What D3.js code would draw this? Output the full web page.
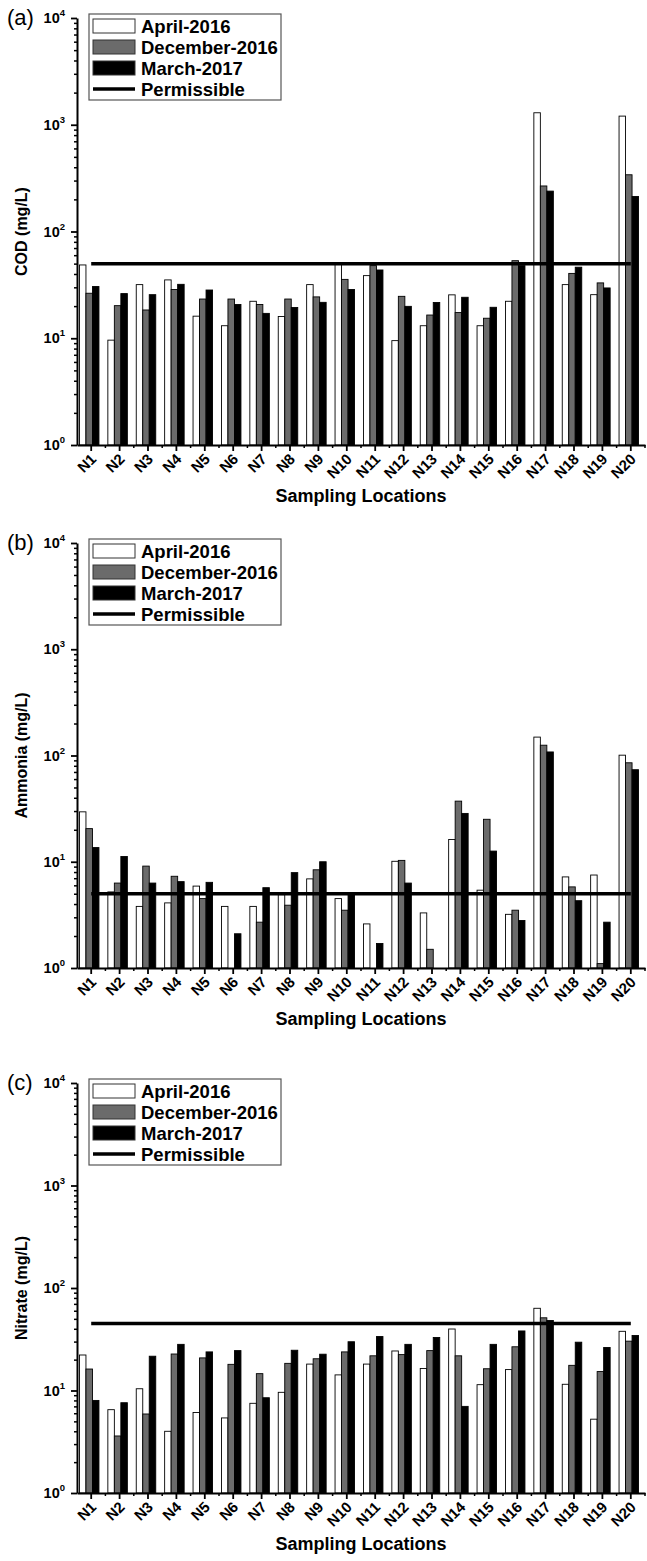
<!DOCTYPE html>
<html>
<head>
<meta charset="utf-8">
<script src="https://cdn.jsdelivr.net/npm/d3@7"></script>
<style>
  body { margin: 0; background: #ffffff; }
  text { font-family: "Liberation Sans", Arial, sans-serif; }
</style>
</head>
<body>
<script>
var locations = ["N1", "N2", "N3", "N4", "N5", "N6", "N7", "N8", "N9", "N10",
  "N11", "N12", "N13", "N14", "N15", "N16", "N17", "N18", "N19", "N20"];
var seriesNames = ["April-2016", "December-2016", "March-2017"];
var seriesColors = ["#ffffff", "#6b6b6b", "#000000"];
var yTickValues = [1, 10, 100, 1000, 10000];

// (a) COD
var codApr = [48.6, 9.6, 31.8, 35.2, 16.1, 13.1, 22.2, 16.0, 31.8, 50, 38.6, 9.5, 13.1, 25.5, 13.1, 22.2, 1295, 31.8, 25.6, 1205];
var codDec = [26.4, 20.2, 18.4, 28.6, 23.3, 23.3, 20.7, 23.3, 24.4, 35.6, 47.9, 24.7, 16.5, 17.4, 15.4, 53.3, 267, 40.5, 33.0, 340];
var codMar = [30.5, 26.2, 25.6, 32.0, 28.3, 20.7, 17.1, 19.4, 21.7, 28.6, 43.6, 19.9, 21.6, 24.2, 19.5, 47.9, 239, 46.3, 29.6, 213];
var codLimit = 50;

// (b) Ammonia
var ammApr = [29.5, 5.2, 3.8, 4.1, 5.9, 3.8, 3.8, 4.9, 6.9, 4.5, 2.6, 10.1, 3.3, 16.2, 5.4, 3.2, 149, 7.2, 7.5, 100.7];
var ammDec = [20.5, 6.3, 9.1, 7.3, 4.5, null, 2.7, 3.9, 8.4, 3.5, null, 10.3, 1.5, 37.2, 25.1, 3.5, 125, 5.8, 1.1, 85.4];
var ammMar = [13.6, 11.2, 6.3, 6.5, 6.4, 2.1, 5.7, 7.9, 10.0, 5.0, 1.7, 6.3, null, 28.5, 12.6, 2.8, 108, 4.3, 2.7, 73.5];
var ammLimit = 5;

// (c) Nitrate
var nitApr = [22.2, 6.5, 10.4, 4.0, 6.1, 5.4, 7.5, 9.6, 18.1, 14.2, 18.1, 24.3, 16.4, 39.8, 11.4, 16.0, 63.4, 11.5, 5.25, 37.8];
var nitDec = [16.2, 3.6, 5.9, 22.7, 20.8, 18.0, 14.6, 18.4, 20.4, 23.8, 21.8, 22.4, 24.5, 21.8, 16.3, 26.7, 51.2, 17.6, 15.3, 30.3];
var nitMar = [8.0, 7.6, 21.6, 28.2, 23.8, 24.5, 8.5, 24.7, 22.6, 29.9, 33.6, 28.2, 32.9, 7.0, 28.2, 38.1, 48.2, 29.6, 26.3, 34.4];
var nitLimit = 45;

var W = 647, H = 1561;
var plotLeft = 77, plotRight = 645;
var barW = 6.5;

var svg = d3.select("body").append("svg")
  .attr("width", W)
  .attr("height", H);

function drawPanel(letter, top, bottom, yTitle, values, limit) {
  var g = svg.append("g");

  var x = d3.scaleBand().domain(locations).range([plotLeft, plotRight]).padding(0);
  var y = d3.scaleLog().domain([1, 10000]).range([bottom, top]);
  var bw = x.bandwidth();
  var groupOffset = (bw - barW * 3) / 2 - 2;

  // bars
  values.forEach(function (vals, si) {
    var rows = vals.map(function (v, i) { return { loc: locations[i], v: v }; })
      .filter(function (d) { return d.v != null; });
    g.selectAll(null)
      .data(rows)
      .enter().append("rect")
      .attr("x", function (d) { return x(d.loc) + groupOffset + si * barW; })
      .attr("y", function (d) { return y(d.v); })
      .attr("width", barW)
      .attr("height", function (d) { return y(1) - y(d.v); })
      .attr("fill", seriesColors[si])
      .attr("stroke", "#000")
      .attr("stroke-width", 0.9);
  });

  // permissible line
  var line = d3.line()
    .x(function (d) { return x(d) + bw / 2; })
    .y(function () { return y(limit); });
  g.append("path")
    .datum(locations)
    .attr("d", line)
    .attr("fill", "none")
    .attr("stroke", "#000")
    .attr("stroke-width", 3.5);

  // y axis, minor then major
  var minor = y.ticks().filter(function (t) { return yTickValues.indexOf(t) < 0; });
  g.append("g")
    .attr("transform", "translate(" + plotLeft + ",0)")
    .call(d3.axisLeft(y).tickValues(minor).tickSize(3).tickFormat(""))
    .call(function (a) { a.select(".domain").remove(); })
    .selectAll("line").attr("stroke-width", 1.5);

  var yAxis = g.append("g")
    .attr("transform", "translate(" + plotLeft + ",0)")
    .call(d3.axisLeft(y).tickValues(yTickValues).tickSize(6).tickSizeOuter(0).tickFormat(""));
  yAxis.select(".domain").attr("stroke-width", 2);
  yAxis.selectAll(".tick line").attr("stroke-width", 1.8);

  yTickValues.forEach(function (t) {
    var lab = g.append("text")
      .attr("x", plotLeft - 12)
      .attr("y", y(t) + 5)
      .attr("text-anchor", "end")
      .attr("font-size", 14.5)
      .attr("font-weight", "bold")
      .text("10");
    lab.append("tspan")
      .attr("dy", -7)
      .attr("font-size", 9.5)
      .text(Math.round(Math.log10(t)));
  });

  // x axis
  var xAxis = g.append("g")
    .attr("transform", "translate(0," + bottom + ")")
    .call(d3.axisBottom(x).tickSize(6).tickSizeOuter(0).tickFormat(""));
  xAxis.select(".domain").attr("stroke-width", 2);
  xAxis.selectAll(".tick line").attr("stroke-width", 1.8);

  g.selectAll(null)
    .data(locations.slice(1).concat(["end"]))
    .enter().append("line")
    .attr("x1", function (d) { return d == "end" ? plotRight : x(d); })
    .attr("x2", function (d) { return d == "end" ? plotRight : x(d); })
    .attr("y1", bottom)
    .attr("y2", bottom + 3)
    .attr("stroke", "#000")
    .attr("stroke-width", 1.5);

  g.selectAll(null)
    .data(locations)
    .enter().append("text")
    .attr("transform", function (d) {
      return "translate(" + (x(d) + bw / 2 + 6) + "," + (bottom + 15) + ") rotate(-45)";
    })
    .attr("text-anchor", "end")
    .attr("font-size", 15)
    .attr("font-weight", "bold")
    .text(function (d) { return d; });

  g.append("text")
    .attr("x", (plotLeft + plotRight) / 2)
    .attr("y", bottom + 57)
    .attr("text-anchor", "middle")
    .attr("font-size", 18)
    .attr("font-weight", "bold")
    .text("Sampling Locations");

  g.append("text")
    .attr("transform", "translate(27," + (top + bottom) / 2 + ") rotate(-90)")
    .attr("text-anchor", "middle")
    .attr("font-size", 16)
    .attr("font-weight", "bold")
    .text(yTitle);

  g.append("text")
    .attr("x", 7)
    .attr("y", top + 7)
    .attr("font-size", 22)
    .text("(" + letter + ")");

  // legend
  var leg = g.append("g").attr("transform", "translate(89," + (top - 4) + ")");
  leg.append("rect")
    .attr("width", 192)
    .attr("height", 86)
    .attr("fill", "#fff")
    .attr("stroke", "#555")
    .attr("stroke-width", 1.2);

  seriesNames.forEach(function (name, i) {
    var cy = 12 + i * 21;
    leg.append("rect")
      .attr("x", 4)
      .attr("y", cy - 7)
      .attr("width", 42)
      .attr("height", 14)
      .attr("fill", seriesColors[i])
      .attr("stroke", "#333")
      .attr("stroke-width", 1);
    leg.append("text")
      .attr("x", 52)
      .attr("y", cy + 6.5)
      .attr("font-size", 18.5)
      .attr("font-weight", "bold")
      .text(name);
  });
  var ly = 12 + 3 * 21;
  leg.append("line")
    .attr("x1", 4)
    .attr("x2", 46)
    .attr("y1", ly)
    .attr("y2", ly)
    .attr("stroke", "#000")
    .attr("stroke-width", 3.5);
  leg.append("text")
    .attr("x", 52)
    .attr("y", ly + 6.5)
    .attr("font-size", 18.5)
    .attr("font-weight", "bold")
    .text("Permissible");
}

drawPanel("a", 18, 445, "COD (mg/L)", [codApr, codDec, codMar], codLimit);
drawPanel("b", 543, 968, "Ammonia (mg/L)", [ammApr, ammDec, ammMar], ammLimit);
drawPanel("c", 1083, 1493, "Nitrate (mg/L)", [nitApr, nitDec, nitMar], nitLimit);
</script>
</body>
</html>
